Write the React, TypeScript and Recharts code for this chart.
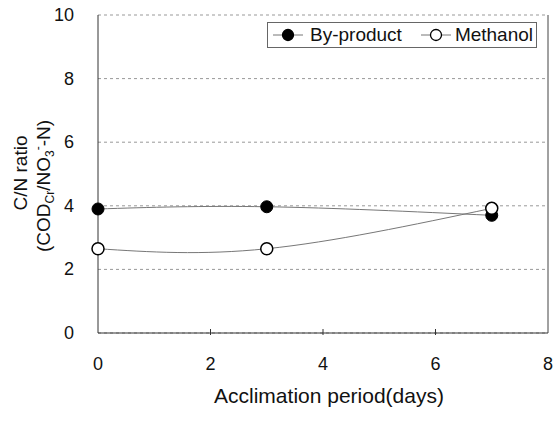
import { CartesianGrid, Legend, Line, LineChart, ReferenceLine, XAxis, YAxis } from 'recharts'

const days = [0, 3, 7]
const byProduct = [3.9, 3.97, 3.7]
const methanol = [2.65, 2.65, 3.92]
const xTicks = [0, 2, 4, 6, 8]
const yTicks = [0, 2, 4, 6, 8, 10]

const data = days.map((d, i) => ({ day: d, byProduct: byProduct[i], methanol: methanol[i] }))

const font = '"Liberation Sans", Arial, sans-serif'

function XTick(props: any) {
  const { x, y, payload } = props
  const inner = payload.value > 0 && payload.value < 8
  return (
    <g>
      {inner ? <line x1={x} x2={x} y1={y} y2={y - 6} stroke="#333" /> : null}
      <text x={x} y={y + 35} textAnchor="middle" fontSize={18} fontFamily={font} fill="#111">
        {payload.value}
      </text>
    </g>
  )
}

function YTick(props: any) {
  const { x, y, payload } = props
  return (
    <text x={x - 22} y={y + 6} textAnchor="end" fontSize={18} fontFamily={font} fill="#111">
      {payload.value}
    </text>
  )
}

function YTitle() {
  return (
    <g fontFamily={font} fill="#111">
      <text x={27} y={173} fontSize={19} textAnchor="middle" transform="rotate(-90 27 173)">
        C/N ratio
      </text>
      <text x={50} y={186} fontSize={19} textAnchor="middle" transform="rotate(-90 50 186)">
        (COD
        <tspan fontSize={12} dy={4}>Cr</tspan>
        <tspan dy={-4}>/NO</tspan>
        <tspan fontSize={12} dy={4}>3</tspan>
        <tspan fontSize={12} dy={-12}>-</tspan>
        <tspan dy={8}>-N)</tspan>
      </text>
    </g>
  )
}

function XTitle(props: any) {
  const { viewBox } = props
  return (
    <text
      x={viewBox.x + viewBox.width / 2 + 6}
      y={viewBox.y + 70}
      textAnchor="middle"
      fontSize={21}
      fontFamily={font}
      fill="#111"
    >
      Acclimation period(days)
    </text>
  )
}

function LegendIcon({ filled }: { filled: boolean }) {
  return (
    <svg width={30} height={14} style={{ display: 'block' }}>
      <line x1={0} x2={30} y1={7} y2={7} stroke="#777" />
      <circle cx={15} cy={7} r={5.5} fill={filled ? '#000' : '#fff'} stroke="#000" strokeWidth={1.3} />
    </svg>
  )
}

function LegendBox() {
  return (
    <div
      style={{
        border: '1px solid #666',
        height: 26,
        width: 270,
        boxSizing: 'border-box',
        display: 'flex',
        alignItems: 'center',
        fontFamily: font,
        fontSize: 19,
        color: '#111',
        background: '#fff',
        paddingLeft: 5,
        lineHeight: '24px',
      }}
    >
      <LegendIcon filled />
      <span style={{ marginLeft: 7, marginRight: 19 }}>By-product</span>
      <LegendIcon filled={false} />
      <span style={{ marginLeft: 4 }}>Methanol</span>
    </div>
  )
}

export default function App() {
  return (
    <div style={{ position: 'absolute', left: 0, top: 0, background: '#fff' }}>
      <LineChart width={555} height={436} data={data} margin={{ top: 15, right: 7, left: 0, bottom: 0 }}>
        <CartesianGrid vertical={false} stroke="#999" strokeDasharray="3 3" />
        <XAxis
          dataKey="day"
          type="number"
          domain={[0, 8]}
          ticks={xTicks}
          height={77}
          tickSize={0}
          tickLine={false}
          stroke="#333"
          tick={<XTick />}
          label={<XTitle />}
        />
        <YAxis
          type="number"
          domain={[0, 10]}
          ticks={yTicks}
          width={98}
          tickSize={0}
          tickLine={false}
          stroke="#333"
          tick={<YTick />}
          label={<YTitle />}
        />
        <ReferenceLine x={8} stroke="#444" />
        <Legend
          content={<LegendBox />}
          wrapperStyle={{ position: 'absolute', top: 22, left: 267, width: 270 }}
        />
        <Line
          type="natural"
          dataKey="byProduct"
          stroke="#777"
          strokeWidth={1}
          dot={{ r: 6, fill: '#000', stroke: '#000', strokeWidth: 1 }}
          isAnimationActive={false}
        />
        <Line
          type="natural"
          dataKey="methanol"
          stroke="#777"
          strokeWidth={1}
          dot={{ r: 6, fill: '#fff', stroke: '#000', strokeWidth: 1.5 }}
          isAnimationActive={false}
        />
      </LineChart>
    </div>
  )
}
